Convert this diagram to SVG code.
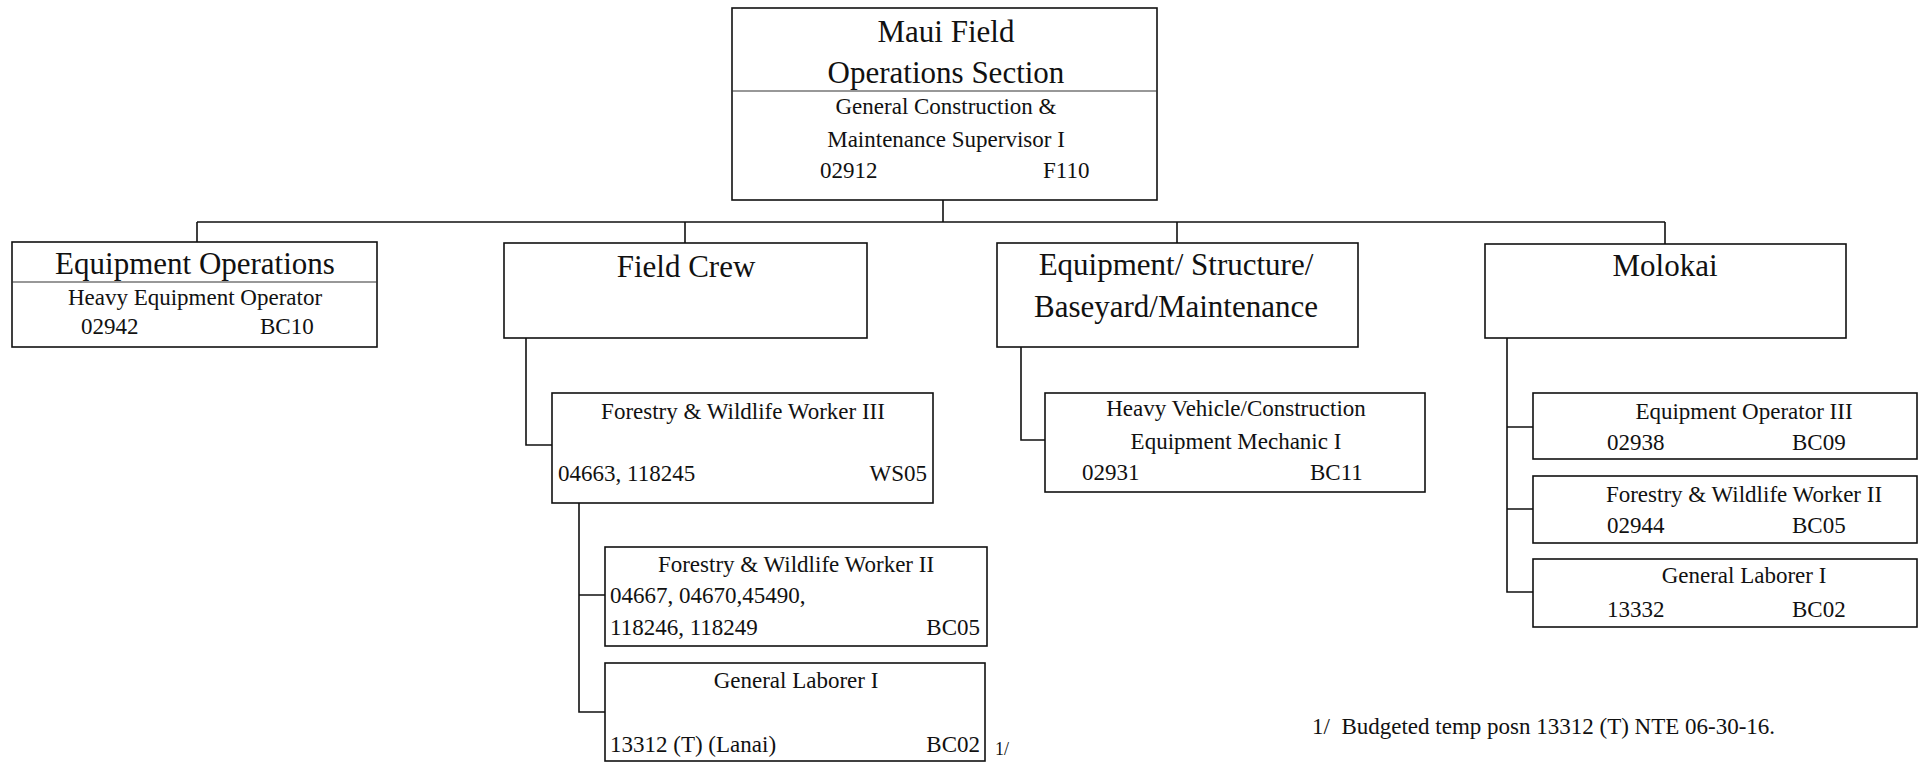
<svg xmlns="http://www.w3.org/2000/svg" width="1923" height="762" viewBox="0 0 1923 762">
<style>
rect{fill:#fff;stroke:#111;stroke-width:1.6}
.div{stroke:#333;stroke-width:1.2}
.c{fill:none;stroke:#111;stroke-width:1.6}
text{font-family:"Liberation Serif","Times New Roman",serif;fill:#111}
.h{font-size:31px}
.b{font-size:23px}
.m{text-anchor:middle}
.e{text-anchor:end}
.f{font-size:23px;white-space:pre}
</style>
<g id="connectors">
<path class="c" d="M943,200V222M197,222H1665M197,222V242M685,222V243M1177,222V243M1665,222V244"/>
<path class="c" d="M526,338V445H552"/>
<path class="c" d="M579,503V712H605M579,595H605"/>
<path class="c" d="M1021,347V440H1045"/>
<path class="c" d="M1507,338V592H1533M1507,427H1533M1507,509H1533"/>
</g>
<g id="top">
<rect x="732" y="8" width="425" height="192"/>
<line class="div" x1="732" y1="91" x2="1157" y2="91"/>
<text class="h m" x="946" y="42">Maui Field</text>
<text class="h m" x="946" y="83">Operations Section</text>
<text class="b m" x="946" y="114">General Construction &amp;</text>
<text class="b m" x="946" y="147">Maintenance Supervisor I</text>
<text class="b" x="820" y="178">02912</text>
<text class="b" x="1043" y="178">F110</text>
</g>
<g id="equipment-operations">
<rect x="12" y="242" width="365" height="105"/>
<line class="div" x1="12" y1="282" x2="377" y2="282"/>
<text class="h m" x="195" y="274">Equipment Operations</text>
<text class="b m" x="195" y="305">Heavy Equipment Operator</text>
<text class="b" x="81" y="334">02942</text>
<text class="b" x="260" y="334">BC10</text>
</g>
<g id="field-crew">
<rect x="504" y="243" width="363" height="95"/>
<text class="h m" x="686" y="277">Field Crew</text>
</g>
<g id="equipment-structure">
<rect x="997" y="243" width="361" height="104"/>
<text class="h m" x="1176" y="275">Equipment/ Structure/</text>
<text class="h m" x="1176" y="317">Baseyard/Maintenance</text>
</g>
<g id="molokai">
<rect x="1485" y="244" width="361" height="94"/>
<text class="h m" x="1665" y="276">Molokai</text>
</g>
<g id="fww3">
<rect x="552" y="393" width="381" height="110"/>
<text class="b m" x="743" y="419">Forestry &amp; Wildlife Worker III</text>
<text class="b" x="558" y="481">04663, 118245</text>
<text class="b e" x="927" y="481">WS05</text>
</g>
<g id="fww2">
<rect x="605" y="547" width="382" height="99"/>
<text class="b m" x="796" y="572">Forestry &amp; Wildlife Worker II</text>
<text class="b" x="610" y="603">04667, 04670,45490,</text>
<text class="b" x="610" y="635">118246, 118249</text>
<text class="b e" x="980" y="635">BC05</text>
</g>
<g id="gl1">
<rect x="605" y="663" width="380" height="98"/>
<text class="b m" x="796" y="688">General Laborer I</text>
<text class="b" x="610" y="752">13312 (T) (Lanai)</text>
<text class="b e" x="980" y="752">BC02</text>
<text x="995" y="755" style="font-size:18px">1/</text>
</g>
<g id="hvcem">
<rect x="1045" y="393" width="380" height="99"/>
<text class="b m" x="1236" y="416">Heavy Vehicle/Construction</text>
<text class="b m" x="1236" y="449">Equipment Mechanic I</text>
<text class="b" x="1082" y="480">02931</text>
<text class="b" x="1310" y="480">BC11</text>
</g>
<g id="eo3">
<rect x="1533" y="393" width="384" height="66"/>
<text class="b m" x="1744" y="419">Equipment Operator III</text>
<text class="b" x="1607" y="450">02938</text>
<text class="b" x="1792" y="450">BC09</text>
</g>
<g id="mfww2">
<rect x="1533" y="476" width="384" height="67"/>
<text class="b m" x="1744" y="502">Forestry &amp; Wildlife Worker II</text>
<text class="b" x="1607" y="533">02944</text>
<text class="b" x="1792" y="533">BC05</text>
</g>
<g id="mgl1">
<rect x="1533" y="559" width="384" height="68"/>
<text class="b m" x="1744" y="583">General Laborer I</text>
<text class="b" x="1607" y="617">13332</text>
<text class="b" x="1792" y="617">BC02</text>
</g>
<g id="footnote">
<text class="f" x="1312" y="734">1/  Budgeted temp posn 13312 (T) NTE 06-30-16.</text>
</g>
</svg>
